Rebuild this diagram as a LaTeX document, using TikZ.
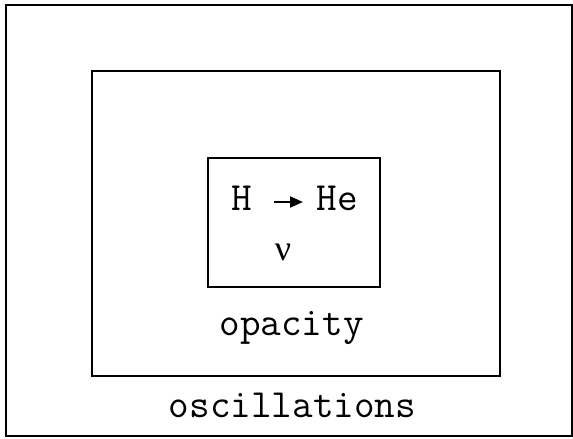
\documentclass[tikz,border=0pt]{standalone}
\usepackage{fontspec}
\newfontfamily\greekfont{Liberation Serif}
\usetikzlibrary{arrows.meta}
\begin{document}
\begin{tikzpicture}[x=1pt,y=-1pt,
  frame/.style={draw=black,line width=2.9pt},
  lbl/.style={font=\ttfamily\fontsize{40}{44}\selectfont,inner sep=0pt,anchor=base}]
\useasboundingbox (0,0) rectangle (573,439);
\draw[frame] (6,5) rectangle (572,436);
\draw[frame] (92,71) rectangle (500,376);
\draw[frame] (208,158) rectangle (380,287);
\node[lbl] (h) at (242,210) {H};
\node[lbl] (he) at (337,210) {He};
\node[lbl,font=\greekfont\fontsize{36}{40}\selectfont] (nu) at (283,260) {ν};
\node[lbl] (op) at (291.5,335) {opacity};
\node[lbl] (osc) at (292.5,417) {oscillations};
\coordinate (a1) at (274,202);
\coordinate (a2) at (303,202);
\draw[line width=2.2pt,-{Triangle[length=13pt,width=11pt]}] (a1) -- (a2);
\end{tikzpicture}
\end{document}
